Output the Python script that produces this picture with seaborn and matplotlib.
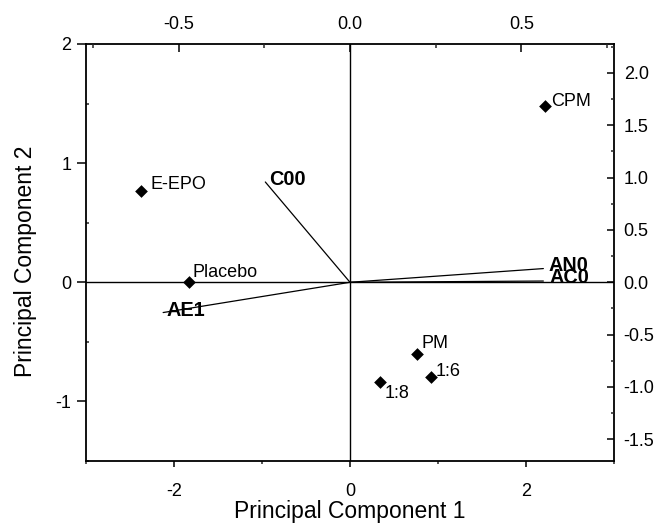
import numpy as np
import pandas as pd
import matplotlib
matplotlib.use("Agg")
import matplotlib.pyplot as plt
import seaborn as sns
from matplotlib.ticker import MultipleLocator

# ---- data (scores) ----
samples = ["E-EPO", "Placebo", "CPM", "PM", "1:6", "1:8"]
pc1 = [-2.38, -1.83, 2.22, 0.76, 0.92, 0.34]
pc2 = [0.77, 0.0, 1.48, -0.60, -0.795, -0.84]

# ---- data (loadings, top/right axes) ----
variables = ["C00", "AE1", "AN0", "AC0"]
load1 = [-0.247, -0.545, 0.564, 0.564]
load2 = [0.958, -0.289, 0.131, 0.012]

# ---- tick labels ----
bottom_ticks = [-2, 0, 2]
left_ticks = [-1, 0, 1, 2]
top_ticks = [-0.5, 0.0, 0.5]
right_ticks = [-1.5, -1.0, -0.5, 0.0, 0.5, 1.0, 1.5, 2.0]

# label offsets in pixels (style)
sample_offsets = {"E-EPO": (10, 2), "Placebo": (4, 5), "CPM": (6, 0),
                  "PM": (5, 6), "1:6": (5, 1), "1:8": (5, -16)}
var_offsets = {"C00": (4, -3.3), "AE1": (3, -3), "AN0": (5, -2.4), "AC0": (6, -2)}

sns.set_style("ticks")
plt.rcParams["font.family"] = ["Liberation Sans", "DejaVu Sans"]
plt.rcParams["axes.unicode_minus"] = False

fig = plt.figure(figsize=(6.57, 5.25), dpi=100)
pos = [86 / 657, 1 - 461 / 525, 528 / 657, 417 / 525]
ax = fig.add_axes(pos)
axl = fig.add_axes(pos, frameon=False)

df = pd.DataFrame({"sample": samples, "PC1": pc1, "PC2": pc2})

ax.axhline(0, color="black", lw=1.0, zorder=1)
ax.axvline(0, color="black", lw=1.0, zorder=1)
sns.scatterplot(data=df, x="PC1", y="PC2", marker="D", color="black", s=42,
                edgecolor="black", linewidth=0, ax=ax, zorder=3)
for s, x, y in zip(samples, pc1, pc2):
    ax.annotate(s, (x, y), xytext=sample_offsets[s], textcoords="offset pixels",
                ha="left", va="baseline", fontsize=13, color="black")

ax.set_xlim(-3, 3)
ax.set_ylim(-1.5, 2)
ax.set_xticks(bottom_ticks)
ax.set_xticklabels([str(t) for t in bottom_ticks])
ax.set_yticks(left_ticks)
ax.set_yticklabels([str(t) for t in left_ticks])
ax.xaxis.set_minor_locator(MultipleLocator(1))
ax.yaxis.set_minor_locator(MultipleLocator(0.5))
ax.tick_params(axis="x", which="major", direction="out", length=4.5, width=1.1,
               labelsize=13, pad=11, top=False, colors="black")
ax.tick_params(axis="x", which="minor", direction="out", length=2.2, width=1.1, top=False)
ax.tick_params(axis="y", which="major", direction="out", length=6.5, width=1.1,
               labelsize=13, pad=4, right=False, colors="black")
ax.tick_params(axis="y", which="minor", direction="in", length=2.2, width=1.1, right=False)
for sp in ax.spines.values():
    sp.set_visible(True)
    sp.set_linewidth(1.3)
    sp.set_color("black")

ax.set_xlabel("Principal Component 1", fontsize=16.5, color="black")
ax.set_ylabel("Principal Component 2", fontsize=16.5, color="black")
ax.xaxis.set_label_coords(0.5, -0.12)
ax.xaxis.label.set_va("center")
ax.yaxis.set_label_coords(-0.115, 0.48)
ax.yaxis.label.set_va("center")

# loadings axis (top / right)
for v, x, y in zip(variables, load1, load2):
    axl.plot([0, x], [0, y], color="black", lw=0.9, zorder=2)
    axl.annotate(v, (x, y), xytext=var_offsets[v], textcoords="offset pixels",
                 ha="left", va="baseline", fontsize=14.3, fontweight="bold", color="black")

axl.set_xlim(-0.77, 0.77)
axl.set_ylim(-1.707, 2.276)
axl.patch.set_visible(False)
axl.xaxis.tick_top()
axl.yaxis.tick_right()
axl.set_xticks(top_ticks)
axl.set_xticklabels([f"{t:.1f}" for t in top_ticks])
axl.set_yticks(right_ticks)
axl.set_yticklabels([f"{t:.1f}" for t in right_ticks])
axl.xaxis.set_minor_locator(MultipleLocator(0.25))
axl.yaxis.set_minor_locator(MultipleLocator(0.25))
axl.tick_params(axis="x", which="major", direction="in", length=5.8, width=1.1,
                labelsize=13, pad=8, bottom=False, top=True, colors="black")
axl.tick_params(axis="x", which="minor", direction="in", length=2.9, width=1.1,
                bottom=False, top=True)
axl.tick_params(axis="y", which="major", direction="in", length=5.0, width=1.1,
                labelsize=13, pad=7, left=False, right=True, colors="black")
axl.tick_params(axis="y", which="minor", direction="in", length=2.2, width=1.1,
                left=False, right=True)

fig.savefig("out.png", dpi=100)
